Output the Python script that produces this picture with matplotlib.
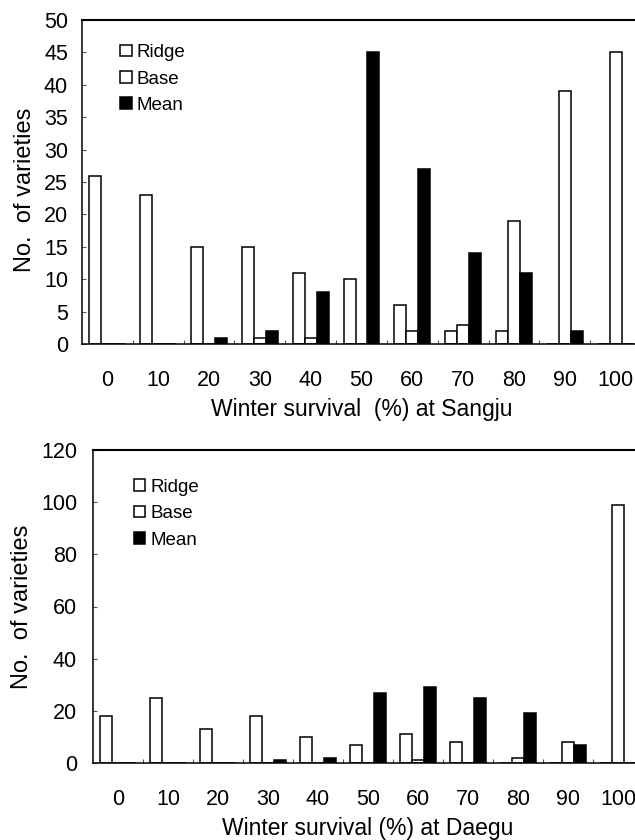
import matplotlib
matplotlib.use("Agg")
import matplotlib.pyplot as plt
from matplotlib.patches import Patch
from matplotlib.ticker import MultipleLocator
import numpy as np

plt.rcParams["font.family"] = ["Liberation Sans", "DejaVu Sans"]

categories = ["0", "10", "20", "30", "40", "50", "60", "70", "80", "90", "100"]
series_names = ["Ridge", "Base", "Mean"]

# Sangju
sangju_ridge = [26, 23, 15, 15, 11, 10, 6, 2, 2, 0, 0]
sangju_base = [0, 0, 0, 1, 1, 0, 2, 3, 19, 39, 45]
sangju_mean = [0, 0, 1, 2, 8, 45, 27, 14, 11, 2, 0]

# Daegu
daegu_ridge = [18, 25, 13, 18, 10, 7, 11, 8, 0, 0, 0]
daegu_base = [0, 0, 0, 0, 0, 0, 1, 0, 2, 8, 99]
daegu_mean = [0, 0, 0, 1, 2, 27, 29, 25, 19, 7, 0]


def draw_panel(ax, ridge, base, mean, ymax, ystep, xlabel, ypad, leg_anchor, ylab_y):
    x = np.arange(len(categories))
    w = 0.235
    ax.bar(x - w, ridge, w, color="white", edgecolor="black", linewidth=1.1)
    ax.bar(x, base, w, color="white", edgecolor="black", linewidth=1.1)
    ax.bar(x + w, mean, w, color="black", edgecolor="black", linewidth=1.1)

    ax.set_xlim(-0.5, len(categories) - 0.5)
    ax.set_ylim(0, ymax)
    ax.set_xticks(x)
    ax.set_xticklabels(categories)
    ax.set_xticks(x[:-1] + 0.5, minor=True)
    ax.yaxis.set_major_locator(MultipleLocator(ystep))

    ax.tick_params(axis="x", which="major", length=0, pad=19, labelsize=15.5)
    ax.tick_params(axis="x", which="minor", direction="in", length=3,
                   width=0.8, color="#555555")
    ax.tick_params(axis="y", direction="in", length=3, width=0.8,
                   color="#555555", pad=ypad, labelsize=15.5)

    ax.spines["right"].set_visible(False)
    ax.spines["top"].set_linewidth(1.5)
    for s in ("left", "bottom"):
        ax.spines[s].set_linewidth(1.1)

    ax.set_xlabel(xlabel, fontsize=16.5, labelpad=5)
    ax.set_ylabel("No.  of varieties", fontsize=17, labelpad=6, y=ylab_y)

    handles = [
        Patch(facecolor="white", edgecolor="black", linewidth=1.1),
        Patch(facecolor="white", edgecolor="black", linewidth=1.1),
        Patch(facecolor="black", edgecolor="black", linewidth=1.1),
    ]
    ax.legend(handles, series_names, loc="upper left", bbox_to_anchor=leg_anchor,
              frameon=False, fontsize=13.5, handlelength=0.6, handleheight=0.6,
              handletextpad=0.25, labelspacing=0.5, borderaxespad=0.3)


fig = plt.figure(figsize=(6.35, 8.4), dpi=100)
ax1 = fig.add_axes([82 / 635, 496 / 840, 559 / 635, 324 / 840])
ax2 = fig.add_axes([93 / 635, 77 / 840, 550 / 635, 313 / 840])

draw_panel(ax1, sangju_ridge, sangju_base, sangju_mean, 50, 5,
           "Winter survival  (%) at Sangju", 10, (0.045, 0.966), 0.475)
draw_panel(ax2, daegu_ridge, daegu_base, daegu_mean, 120, 20,
           "Winter survival (%) at Daegu", 11.5, (0.051, 0.95), 0.5)

fig.savefig("out.png", dpi=100)
